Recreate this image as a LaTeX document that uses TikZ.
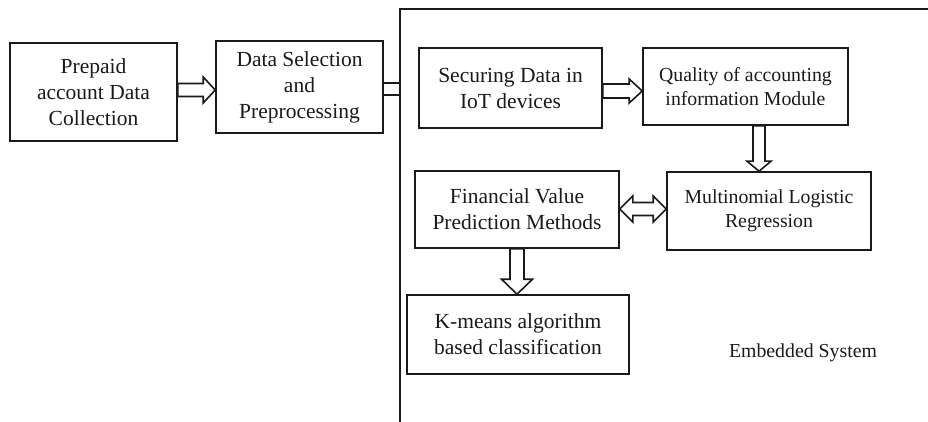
\documentclass[tikz,border=0pt]{standalone}
\usepackage{fontspec}
\setmainfont{Liberation Serif}
\usetikzlibrary{calc}
\definecolor{ink}{HTML}{1A1A1A}
\tikzset{
  box/.style={draw=ink, line width=1.6pt, rectangle, align=center, inner sep=2pt,
    text=ink, font=\fontsize{21.5}{26}\selectfont},
  smallbox/.style={box, font=\fontsize{19.8}{24}\selectfont},
  blk/.style={draw=ink, line width=1.6pt, fill=white, line join=miter},
  frame/.style={draw=ink, line width=1.6pt}
}
% right-pointing block arrow: start, tip, shaft half width, head half width, head length
\newcommand\rblock[5]{%
  \path[blk] let \p1=(#1), \p2=(#2) in
    (\x1,\y1+#3) -- (\x2-#5,\y1+#3) -- (\x2-#5,\y1+#4) -- (\x2,\y1)
    -- (\x2-#5,\y1-#4) -- (\x2-#5,\y1-#3) -- (\x1,\y1-#3) -- cycle;}
% down-pointing block arrow
\newcommand\dblock[5]{%
  \path[blk] let \p1=(#1), \p2=(#2) in
    (\x1-#3,\y1) -- (\x1-#3,\y2+#5) -- (\x1-#4,\y2+#5) -- (\x1,\y2)
    -- (\x1+#4,\y2+#5) -- (\x1+#3,\y2+#5) -- (\x1+#3,\y1) -- cycle;}
% double-headed horizontal block arrow
\newcommand\lrblock[5]{%
  \path[blk] let \p1=(#1), \p2=(#2) in
    (\x1,\y1) -- (\x1+#5,\y1+#4) -- (\x1+#5,\y1+#3) -- (\x2-#5,\y1+#3)
    -- (\x2-#5,\y1+#4) -- (\x2,\y1) -- (\x2-#5,\y1-#4) -- (\x2-#5,\y1-#3)
    -- (\x1+#5,\y1-#3) -- (\x1+#5,\y1-#4) -- cycle;}
\begin{document}
\begin{tikzpicture}[x=1pt,y=-1pt]
\useasboundingbox[fill=white] (0,0) rectangle (928,422);

% frame of the embedded system
\coordinate (ftl) at (400,9);
\coordinate (ftr) at (928,9);
\coordinate (fbl) at (400,423);
\draw[frame] (ftr) -- (ftl) -- (fbl);

% boxes
\node[box, minimum width=167pt, minimum height=98pt] (b1) at (93.5,92)
  {Prepaid\\account Data\\Collection};
\node[box, minimum width=167pt, minimum height=92pt] (b2) at (299.5,87)
  {Data Selection\\and\\Preprocessing};
\node[box, minimum width=183pt, minimum height=80pt] (b3) at (510.5,88)
  {Securing Data in\\IoT devices};
\node[smallbox, minimum width=205pt, minimum height=77pt] (b4) at (745.5,86.5)
  {Quality of accounting\\information Module};
\node[smallbox, minimum width=204pt, minimum height=78pt] (b5) at (769,211)
  {Multinomial Logistic\\Regression};
\node[box, minimum width=204pt, minimum height=77pt] (b6) at (517,209.5)
  {Financial Value\\Prediction Methods};
\node[box, minimum width=222pt, minimum height=79pt] (b7) at (518,334.5)
  {K-means algorithm\\based classification};
\node[font=\fontsize{19.8}{24}\selectfont, text=ink, anchor=base, inner sep=0pt] (emb) at (803,357)
  {Embedded System};

% connectors
\coordinate (a1s) at ($(b1.east)+(0,-2)$);
\coordinate (a1t) at (a1s -| b2.west);
\rblock{a1s}{a1t}{6.5pt}{13pt}{12pt}

\coordinate (c1) at ($(b2.east)+(0,-4)$);
\coordinate (c2) at ($(b2.east)+(0,8)$);
\draw[frame] (c1) -- (c1 -| ftl);
\draw[frame] (c2) -- (c2 -| ftl);

\coordinate (a2s) at ($(b3.east)+(0,3)$);
\coordinate (a2t) at (a2s -| b4.west);
\rblock{a2s}{a2t}{7pt}{12pt}{13pt}

\coordinate (a3s) at ($(b4.south)+(13.5,0)$);
\coordinate (a3t) at (a3s |- b5.north);
\dblock{a3s}{a3t}{6pt}{12pt}{10pt}

\coordinate (a4s) at ($(b6.east)+(0,-0.5)$);
\coordinate (a4t) at (a4s -| b5.west);
\lrblock{a4s}{a4t}{6.5pt}{13pt}{13pt}

\coordinate (a5s) at (b6.south);
\coordinate (a5t) at (a5s |- b7.north);
\dblock{a5s}{a5t}{7pt}{15.5pt}{15pt}
\end{tikzpicture}
\end{document}
